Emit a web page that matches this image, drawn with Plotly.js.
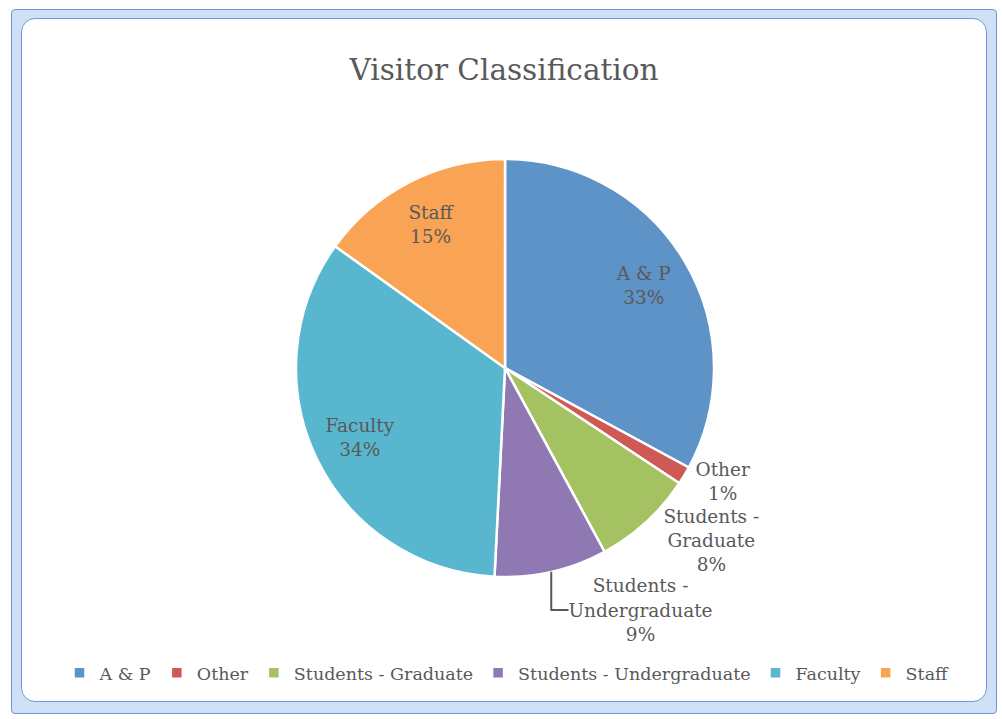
<!DOCTYPE html>
<html>
<head>
<meta charset="utf-8">
<script src="https://cdn.plot.ly/plotly-3.0.1.min.js"></script>
<style>
  html, body { margin: 0; padding: 0; background: #ffffff; }
  #wrap { position: relative; width: 1002px; height: 719px; overflow: hidden; }
  #outer { position: absolute; left: 11px; top: 9px; width: 986px; height: 705px;
           background: #cfe0f6; border: 1.5px solid #6f96dc; border-radius: 4px; box-sizing: border-box; }
  #inner { position: absolute; left: 21px; top: 18px; width: 966px; height: 684px;
           background: #ffffff; border: 1.5px solid #6f96dc; border-radius: 14px; box-sizing: border-box; }
  #chart { position: absolute; left: 0; top: 0; width: 1002px; height: 719px; }
</style>
</head>
<body>
<div id="wrap">
  <div id="outer"></div>
  <div id="inner"></div>
  <div id="chart"></div>
</div>
<script>
const categories = ["A & P", "Other", "Students - Graduate", "Students - Undergraduate", "Faculty", "Staff"];
const sliceLabels = ["A & P", "Other", "Students -<br>Graduate", "Students -<br>Undergraduate", "Faculty", "Staff"];
const values = [32.9, 1.4, 7.8, 8.7, 34.1, 15.1];
const colors = ["#5E93C8", "#CF5A55", "#A5C262", "#9078B2", "#58B7CF", "#F8A454"];
const labelInside = [true, false, false, false, true, true];

const fontFam = "DejaVu Serif, Liberation Serif, serif";
const grey = "#595959";
const total = values.reduce((a, b) => a + b, 0);
const fullText = sliceLabels.map((l, i) => l + "<br>" + Math.round(values[i] / total * 100) + "%");
const dom = { x: [0.2954, 0.7126], y: [0.1975, 0.7789] };
const lblFont = { family: fontFam, size: 18.5, color: grey };

// visible pie, carries the outside labels
const pieTrace = {
  type: "pie",
  labels: categories,
  values: values,
  sort: false,
  direction: "clockwise",
  rotation: 0,
  marker: { colors: colors, line: { color: "#ffffff", width: 2.5 } },
  text: fullText.map((t, i) => labelInside[i] ? "" : t),
  textinfo: "text",
  textposition: labelInside.map(b => b ? "none" : "outside"),
  textfont: lblFont,
  outsidetextfont: lblFont,
  hoverinfo: "label+percent",
  domain: dom
};

// transparent ring over the same pie, only used to place the inside labels further out
const labelRing = {
  type: "pie",
  labels: categories,
  values: values,
  sort: false,
  direction: "clockwise",
  rotation: 0,
  hole: 0.54,
  showlegend: false,
  marker: { colors: categories.map(() => "rgba(0,0,0,0)"), line: { width: 0 } },
  text: fullText.map((t, i) => labelInside[i] ? t : ""),
  textinfo: "text",
  textposition: labelInside.map(b => b ? "inside" : "none"),
  insidetextorientation: "horizontal",
  textfont: lblFont,
  insidetextfont: lblFont,
  hoverinfo: "skip",
  domain: dom
};

const layout = {
  width: 1002,
  height: 719,
  margin: { l: 0, r: 0, t: 0, b: 0 },
  paper_bgcolor: "rgba(0,0,0,0)",
  plot_bgcolor: "rgba(0,0,0,0)",
  title: {
    text: "Visitor Classification",
    font: { family: fontFam, size: 29.5, color: grey },
    x: 0.503, xanchor: "center",
    y: 0.903, yanchor: "middle", yref: "container"
  },
  showlegend: true,
  legend: {
    orientation: "h",
    x: 0.506, xanchor: "center",
    y: 0.064, yanchor: "middle",
    font: { family: fontFam, size: 17.5, color: grey },
    itemwidth: 30,
    bgcolor: "rgba(0,0,0,0)"
  }
};

Plotly.newPlot("chart", [pieTrace, labelRing], layout, { displayModeBar: false, staticPlot: true });
</script>
</body>
</html>
